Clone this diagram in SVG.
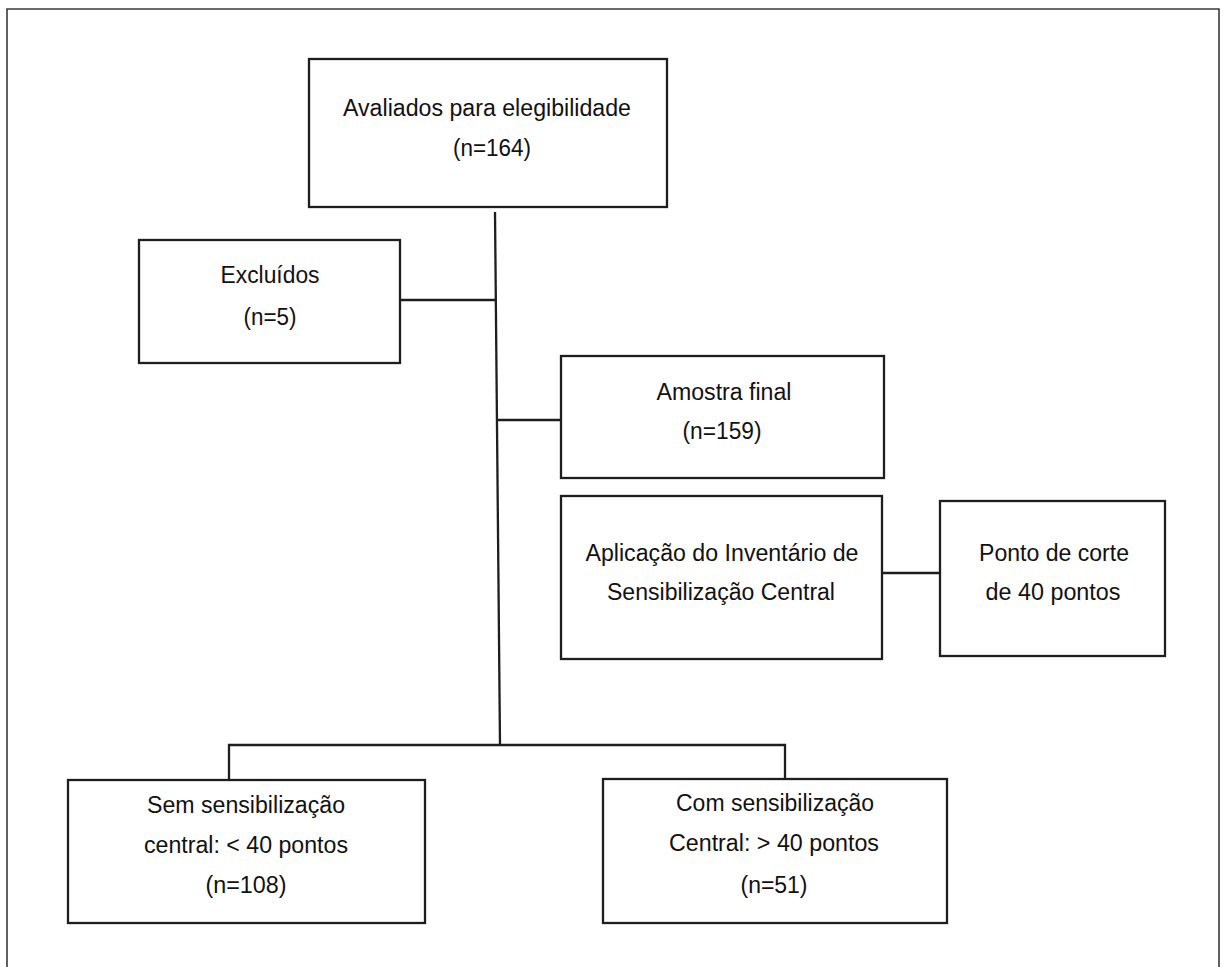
<svg xmlns="http://www.w3.org/2000/svg" width="1223" height="967" viewBox="0 0 1223 967">
<style>
.box{fill:#fff;stroke:#1e1e1e;stroke-width:2.3}
.frame{fill:none;stroke:#3a3a3a;stroke-width:1.6}
.conn{fill:none;stroke:#1e1e1e;stroke-width:2.3}
text{font-family:"Liberation Sans",Arial,sans-serif;font-size:23.5px;fill:#111;text-anchor:middle}
</style>
<rect x="0" y="0" width="1223" height="967" fill="#fff"/>
<path class="frame" d="M7,967 V9 H1219 V967"/>
<g id="connectors">
<path class="conn" d="M495,212 L500,745"/>
<path class="conn" d="M400,300 H495"/>
<path class="conn" d="M497,420 H561"/>
<path class="conn" d="M882,573 H940"/>
<path class="conn" d="M229,780 V745 H785 V779"/>
</g>
<g id="n-avaliados">
<rect class="box" x="309" y="59" width="358" height="148"/>
<text x="487" y="116" textLength="288" lengthAdjust="spacingAndGlyphs">Avaliados para elegibilidade</text>
<text x="492" y="156" textLength="78" lengthAdjust="spacingAndGlyphs">(n=164)</text>
</g>
<g id="n-excluidos">
<rect class="box" x="139" y="240" width="261" height="123"/>
<text x="270" y="283" textLength="99" lengthAdjust="spacingAndGlyphs">Excluídos</text>
<text x="270" y="325" textLength="53" lengthAdjust="spacingAndGlyphs">(n=5)</text>
</g>
<g id="n-amostra">
<rect class="box" x="561" y="356" width="323" height="122"/>
<text x="724" y="400" textLength="135" lengthAdjust="spacingAndGlyphs">Amostra final</text>
<text x="722" y="439" textLength="79" lengthAdjust="spacingAndGlyphs">(n=159)</text>
</g>
<g id="n-aplicacao">
<rect class="box" x="561" y="496" width="321" height="163"/>
<text x="722" y="561" textLength="273" lengthAdjust="spacingAndGlyphs">Aplicação do Inventário de</text>
<text x="721" y="600" textLength="228" lengthAdjust="spacingAndGlyphs">Sensibilização Central</text>
</g>
<g id="n-ponto">
<rect class="box" x="940" y="501" width="225" height="155"/>
<text x="1054" y="561" textLength="150" lengthAdjust="spacingAndGlyphs">Ponto de corte</text>
<text x="1053" y="600" textLength="135" lengthAdjust="spacingAndGlyphs">de 40 pontos</text>
</g>
<g id="n-sem">
<rect class="box" x="68" y="780" width="357" height="143"/>
<text x="246" y="813" textLength="198" lengthAdjust="spacingAndGlyphs">Sem sensibilização</text>
<text x="246" y="853" textLength="204" lengthAdjust="spacingAndGlyphs">central: &lt; 40 pontos</text>
<text x="246" y="893" textLength="81" lengthAdjust="spacingAndGlyphs">(n=108)</text>
</g>
<g id="n-com">
<rect class="box" x="603" y="779" width="344" height="144"/>
<text x="775" y="811" textLength="198" lengthAdjust="spacingAndGlyphs">Com sensibilização</text>
<text x="774" y="851" textLength="210" lengthAdjust="spacingAndGlyphs">Central: &gt; 40 pontos</text>
<text x="774" y="893" textLength="67" lengthAdjust="spacingAndGlyphs">(n=51)</text>
</g>
</svg>
